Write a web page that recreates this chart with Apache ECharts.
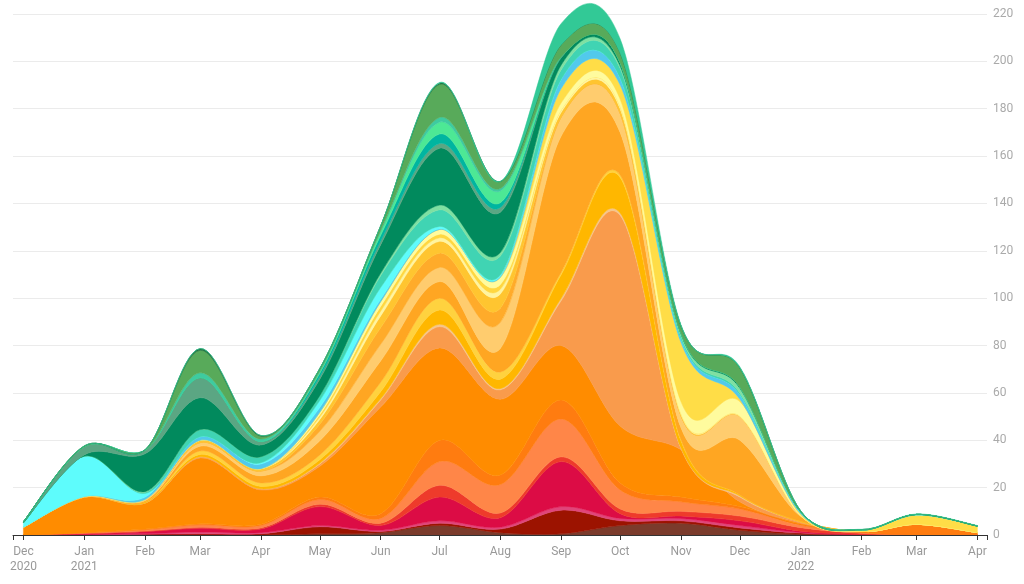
<!DOCTYPE html>
<html><head><meta charset="utf-8">
<script src="https://cdn.jsdelivr.net/npm/echarts@6/dist/echarts.min.js"></script>
<style>html,body{margin:0;padding:0;background:#fff}#c{width:1024px;height:584px}</style>
</head><body><div id="c"></div>
<script>
// monthly dates (categories)
const months = ['2020-12','2021-01','2021-02','2021-03','2021-04','2021-05','2021-06','2021-07','2021-08','2021-09','2021-10','2021-11','2021-12','2022-01','2022-02','2022-03','2022-04'];
const tickLabels = ['Dec\n2020','Jan\n2021','Feb','Mar','Apr','May','Jun','Jul','Aug','Sep','Oct','Nov','Dec','Jan\n2022','Feb','Mar','Apr'];
const yTicks = [0,20,40,60,80,100,120,140,160,180,200,220];

// series values, bottom to top of the stack
const brown      = [0,0,0,0,0,0.5,1,4,1,0.5,4,5,2,0.3,0,0,0];
const darkRed    = [0,0,0.3,0.5,0.5,3,0.5,1,1.5,10,2,1,1,0.5,0.2,0,0];
const pink       = [0,0.2,0.3,0.8,0.5,0.5,0.5,1,0.8,1.5,1,1,1,0.3,0,0,0];
const crimson    = [0,0.3,0.8,1.5,1.5,8,2,10,4,19,2,1,2,0.5,0,0,0];
const red        = [0,0.2,0.3,0.5,0.5,1,1,5,2,2,2,2,2,1.5,0.5,0,0];
const coral      = [0,0.3,0.5,1,1,2,2,10,12,16,8,4,3,1,0.3,0,0];
const darkOrange = [0,0,0.3,0.5,0.5,1,2,9,4,8,3,2,1,0.5,0.5,4.5,1];
const orange     = [3.3,15,11,27.7,14.5,13,45,39,32,23,24,20,2,0.4,0,0,0];
const salmon     = [0,0,0,0.5,0.5,1,3,9,4,19,89,0.5,2,0.5,0,0,0];
const paleSalmon = [0,0,0,0,0,0.3,0.5,1,0.5,1,1,0.3,0.5,0,0,0,0];
const amber      = [0,0,0.5,1,1,1.5,3,6,4,10,15,3,0.5,0.3,0,0,0];
const yellow     = [0,0,0,1.5,1.5,2,4,5,3,1,1,0.5,0,0,0,0,0];
const orange2    = [0,0,0.5,2,3,6,9,7,10,57.5,18,5,23,2,0,0,0];
const peach      = [0,0.3,0.5,1.5,2,4,7,6,11,8,8,5,10,0.3,0,0,0];
const orange3    = [0,0,0,0,0,3,7,6,6,0,0,0,0,0,0,0,0];
const gold       = [0,0,0,1,1,2,5,5,6,2,2,0.5,0,0,0,0,0];
const paleYellow = [0,0,0,0,0,1,2,1.5,2,1,1,0.5,0.3,0,0,0,0];
const gold2      = [0,0,0,0,0,1,2,1.5,2,0,0,0,0,0,0,0,0];
const lightYellow= [0,0,0,0,0,1,2,2,3,3,3,5,6,0.3,0,0,0];
const yellowBig  = [0,0,0,0,0,0,0,0,0,6,6,25,1,0.5,0.5,4,2.8];
const skyBlue    = [0,0,1,1.5,2,2,1,0.3,0.5,4,3,1.5,2,0.6,0.1,0,0];
const cyan       = [1.8,17,1.5,0,0.5,3,5,1,0.5,0,0,0,0,0,0,0,0];
const turquoise  = [0,0,0.5,3,2.5,2,5,7,8,4,4,1,0.7,0.2,0,0.2,0];
const lightGreen = [0,0,0.3,0,0,0,1,2,1.5,2,1,1,2,0,0,0,0];
const darkGreen  = [0.2,0.5,16,13.5,5,7,12,24,17,3,1.5,0.5,0.5,0.1,0,0,0];
const grayGreen  = [0.3,3.5,1.5,8.5,1.5,1,1.5,2,2,0.5,0,0,0,0,0,0,0];
const teal       = [0,0,0,0,0,1.5,2.5,4,2,0,0,0,0,0,0,0,0];
const mint       = [0,0,0,0,0,0.5,1.5,5,5,0,0,0,0,0,0,0,0];
const turq2      = [0,0,0,2,1,0.5,0.5,2,1,0,0,0,0,0,0,0,0];
const medGreen   = [0,0.3,0.2,9.5,1.2,1,2,14,3,5,4,3,8,0.3,0.2,0,0];
const forest     = [0,0,0,0.7,0.3,0,0,0.5,0,0,0,0,0,0,0,0,0];
const topTeal    = [0,0,0,0,0,0,0,0.3,0,9,6,0.5,0.5,0.1,0.1,0.2,0.2];

const layers = [
  ['brown',brown,'#7b3b2c'],['darkRed',darkRed,'#9c1300'],['pink',pink,'#e0457a'],
  ['crimson',crimson,'#dc0c45'],['red',red,'#ee3b2b'],['coral',coral,'#ff8648'],
  ['darkOrange',darkOrange,'#ff7c10'],['orange',orange,'#ff8c00'],['salmon',salmon,'#f99b4c'],
  ['paleSalmon',paleSalmon,'#f5c58a'],['amber',amber,'#ffb700'],['yellow',yellow,'#ffd23f'],
  ['orange2',orange2,'#ffa622'],['peach',peach,'#ffcc6e'],['orange3',orange3,'#ffab2a'],
  ['gold',gold,'#ffc530'],['paleYellow',paleYellow,'#fff4a0'],['gold2',gold2,'#ffd740'],
  ['lightYellow',lightYellow,'#fffb9e'],['yellowBig',yellowBig,'#ffdd47'],['skyBlue',skyBlue,'#52c9ec'],
  ['cyan',cyan,'#5efcfc'],['turquoise',turquoise,'#40d4b3'],['lightGreen',lightGreen,'#7fe0a2'],
  ['darkGreen',darkGreen,'#018a5d'],['grayGreen',grayGreen,'#5ba683'],['teal',teal,'#00b5a0'],
  ['mint',mint,'#4de895'],['turq2',turq2,'#3ecba0'],['medGreen',medGreen,'#58aa5a'],
  ['forest',forest,'#1c6e3c'],['topTeal',topTeal,'#32c996']
];

const DAY = 86400000;
function ts(s){ const p = s.split('-'); return Date.UTC(+p[0], +p[1]-1, 1); }
const times = months.map(ts);

// stacked (cumulative) tops, built from the layer arrays
const stackedTops = [];
let run = months.map(() => 0);
layers.forEach(l => { run = run.map((r, i) => r + l[1][i]); stackedTops.push(run.slice()); });

// cardinal (Catmull-Rom) spline through pixel points
function splineCmds(pts) {
  let d = '';
  for (let i = 0; i < pts.length - 1; i++) {
    const p0 = pts[i - 1] || pts[i], p1 = pts[i], p2 = pts[i + 1], p3 = pts[i + 2] || pts[i + 1];
    const c1x = p1[0] + (p2[0] - p0[0]) / 6, c1y = p1[1] + (p2[1] - p0[1]) / 6;
    const c2x = p2[0] - (p3[0] - p1[0]) / 6, c2y = p2[1] - (p3[1] - p1[1]) / 6;
    d += 'C' + c1x.toFixed(2) + ',' + c1y.toFixed(2) + ',' + c2x.toFixed(2) + ',' + c2y.toFixed(2) + ',' + p2[0].toFixed(2) + ',' + p2[1].toFixed(2);
  }
  return d;
}

const series = layers.map(([name, vals, color], k) => ({
  name, type: 'custom', silent: true, clip: false,
  encode: { x: 0, y: 1 },
  data: vals.map((v, i) => [times[i], v]),
  renderItem: function (params, api) {
    if (params.dataIndex !== 0) return null;
    const top = times.map((t, i) => api.coord([t, stackedTops[k][i]]));
    const bot = times.map((t, i) => api.coord([t, k === 0 ? 0 : stackedTops[k - 1][i]])).reverse();
    let d = 'M' + top[0][0].toFixed(2) + ',' + top[0][1].toFixed(2) + splineCmds(top);
    d += 'L' + bot[0][0].toFixed(2) + ',' + bot[0][1].toFixed(2);
    d += k === 0 ? 'L' + bot[bot.length - 1][0].toFixed(2) + ',' + bot[bot.length - 1][1].toFixed(2) : splineCmds(bot);
    d += 'Z';
    return { type: 'path', z2: k, shape: { pathData: d }, style: { fill: color, stroke: color, lineWidth: 0.5 } };
  }
}));

function labelFor(v) {
  const d = new Date(v);
  if (d.getUTCDate() !== 1 || d.getUTCHours() !== 0) return '';
  const i = times.indexOf(v);
  return i >= 0 ? tickLabels[i] : '';
}

const chart = echarts.init(document.getElementById('c'), null, { renderer: 'canvas' });
chart.setOption({
  useUTC: true,
  animation: false,
  grid: { left: 13, right: 37, top: 14, bottom: 49 },
  xAxis: {
    type: 'time', z: 10,
    min: times[0] - 5.3 * DAY,
    max: times[times.length - 1] + 4.9 * DAY,
    splitNumber: 16,
    minInterval: 28 * DAY,
    maxInterval: 31 * DAY,
    axisLine: { show: true, onZero: false, lineStyle: { color: '#333', width: 1 } },
    axisTick: { show: true, length: 5, lineStyle: { color: '#333' } },
    axisLabel: {
      margin: 9, color: '#999', fontSize: 12, fontFamily: 'Roboto', lineHeight: 15,
      showMinLabel: true, showMaxLabel: true, hideOverlap: false,
      formatter: labelFor
    },
    splitLine: { show: false }
  },
  yAxis: {
    type: 'value', position: 'right', min: 0, max: 220, interval: 20,
    axisLine: { show: false }, axisTick: { show: false },
    axisLabel: { margin: 6, color: '#aaa', fontSize: 12, fontFamily: 'Roboto',
      formatter: v => yTicks.includes(v) ? String(v) : '' },
    splitLine: { lineStyle: { color: '#ebebeb', width: 1 } }
  },
  series
});
</script></body></html>
